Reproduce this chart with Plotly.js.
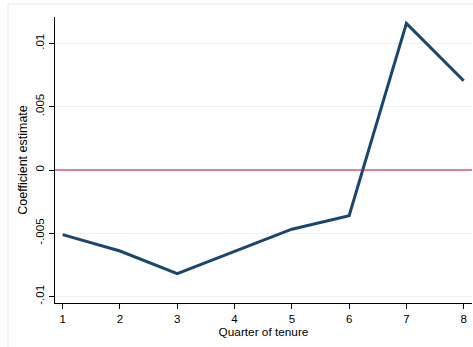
<!DOCTYPE html>
<html><head><meta charset="utf-8">
<script src="https://cdn.plot.ly/plotly-3.0.1.min.js"></script>
<style>html,body{margin:0;padding:0;background:#fff;}#chart{width:473px;height:347px;}</style>
</head><body><div id="chart"></div>
<script>
var quarters = [1, 2, 3, 4, 5, 6, 7, 8];
var coefficients = [-0.00511, -0.0064, -0.00819, -0.00644, -0.00468, -0.00361, 0.01159, 0.00705];
var yTickVals = [-0.01, -0.005, 0, 0.005, 0.01];
var yTickText = ["-.01", "-.005", "0", ".005", ".01"];
var xTickVals = [1, 2, 3, 4, 5, 6, 7, 8];

var trace = {
  x: quarters, y: coefficients, type: 'scatter', mode: 'lines',
  line: {color: '#1a476f', width: 3}, hoverinfo: 'none', showlegend: false
};
var layout = {
  width: 473, height: 347,
  margin: {l: 55, r: 1, t: 17, b: 44},
  paper_bgcolor: '#ffffff', plot_bgcolor: '#ffffff',
  font: {family: 'Liberation Sans, Arial, sans-serif', size: 11, color: '#000'},
  xaxis: {
    range: [0.866, 8.145], tickvals: xTickVals, ticktext: xTickVals.map(String),
    showgrid: false, zeroline: false, showline: true, linecolor: '#000', linewidth: 1.2,
    ticks: 'outside', ticklen: 5, tickcolor: '#000', tickwidth: 1,
    tickfont: {size: 11.5},
    title: {text: 'Quarter of tenure', font: {size: 11.8}, standoff: 2}
  },
  yaxis: {
    range: [-0.01051, 0.01209], tickvals: yTickVals, ticktext: yTickText,
    tickangle: -90,
    showgrid: true, gridcolor: '#eaf2f3', gridwidth: 1, zeroline: false,
    showline: true, linecolor: '#000', linewidth: 1.2,
    ticks: 'outside', ticklen: 5, tickcolor: '#000', tickwidth: 1,
    tickfont: {size: 11.5},
    title: {text: 'Coefficient estimate', font: {size: 12.5}, standoff: 3}
  },
  shapes: [
    {type: 'line', xref: 'paper', yref: 'y', x0: 0, x1: 1, y0: 0, y1: 0,
     line: {color: '#c8102e', width: 1.1}},
    {type: 'line', xref: 'paper', yref: 'paper', x0: -0.1127, x1: 1.1, y0: 1.0455, y1: 1.0455,
     line: {color: '#e3ebee', width: 1}},
    {type: 'line', xref: 'paper', yref: 'paper', x0: -0.1127, x1: -0.1127, y0: 1.0455, y1: -0.2,
     line: {color: '#e3ebee', width: 1}}
  ]
};
Plotly.newPlot('chart', [trace], layout, {staticPlot: true, displayModeBar: false});
</script></body></html>
